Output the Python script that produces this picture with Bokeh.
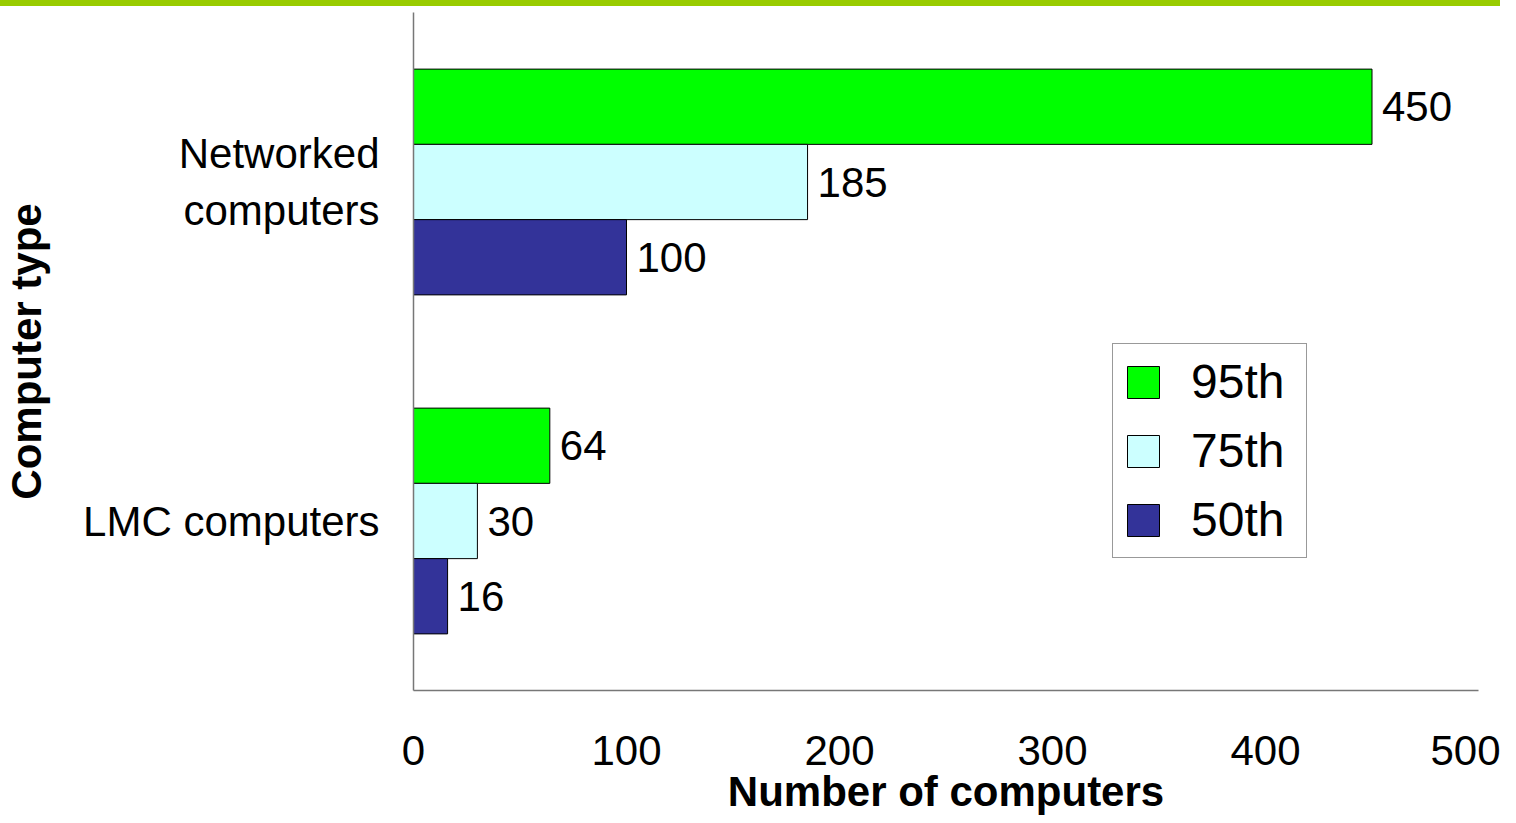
from bokeh.plotting import figure
from bokeh.models import ColumnDataSource, Range1d, FactorRange, FixedTicker, Div
from bokeh.layouts import column
from bokeh.transform import dodge
from bokeh.embed import file_html
from bokeh.resources import INLINE
from bokeh.core.properties import value

categories = ["LMC computers", "Networked\ncomputers"]
p95 = [64, 450]
p75 = [30, 185]
p50 = [16, 100]
series_labels = ["95th", "75th", "50th"]
series_colors = ["#00FF00", "#CCFFFF", "#333399"]
x_ticks = [0, 100, 200, 300, 400, 500]

FONT = "Liberation Sans"

src = ColumnDataSource(dict(
    cat=categories,
    p95=p95, p75=p75, p50=p50,
    l95=[str(v) for v in p95],
    l75=[str(v) for v in p75],
    l50=[str(v) for v in p50],
))

p = figure(width=1500, height=815,
           x_range=Range1d(0, 500),
           y_range=FactorRange(*categories, range_padding=0),
           output_backend="svg", toolbar_location=None,
           min_border_left=413, min_border_right=22,
           min_border_top=6, min_border_bottom=131)

bh = 0.222
offsets = [bh, 0.0, -bh]
fields = ["p95", "p75", "p50"]
lfields = ["l95", "l75", "l50"]
for f, lf, off, col, lab in zip(fields, lfields, offsets, series_colors, series_labels):
    p.hbar(y=dodge("cat", off, range=p.y_range), right=f, left=0, height=bh,
           source=src, fill_color=col, line_color="black", line_width=1,
           legend_label=lab)
    p.text(x=f, y=dodge("cat", off, range=p.y_range), text=lf, source=src,
           x_offset=10, text_baseline="middle", text_align="left",
           text_font_size="42px", text_font=value(FONT), text_color="black")

p.xgrid.visible = False
p.ygrid.visible = False
p.outline_line_color = None
p.background_fill_color = "white"
p.border_fill_color = "white"

xa = p.xaxis[0]
xa.ticker = FixedTicker(ticks=x_ticks)
xa.major_tick_line_color = None
xa.minor_tick_line_color = None
xa.axis_line_color = "#777777"
xa.axis_line_width = 1.5
xa.major_label_text_font = FONT
xa.major_label_text_font_size = "42px"
xa.major_label_text_color = "black"
xa.major_label_standoff = 39
xa.axis_label = "Number of computers"
xa.axis_label_text_font = FONT
xa.axis_label_text_font_size = "42px"
xa.axis_label_text_font_style = "bold"
xa.axis_label_text_color = "black"
xa.axis_label_standoff = 0

ya = p.yaxis[0]
ya.major_tick_line_color = None
ya.minor_tick_line_color = None
ya.axis_line_color = "#777777"
ya.axis_line_width = 1.5
ya.major_label_text_font = FONT
ya.major_label_text_font_size = "42px"
ya.major_label_text_color = "black"
ya.major_label_standoff = 28
ya.axis_label = "Computer type"
ya.axis_label_text_font = FONT
ya.axis_label_text_font_size = "42px"
ya.axis_label_text_font_style = "bold"
ya.axis_label_text_color = "black"
ya.axis_label_standoff = 30

lg = p.legend[0]
lg.location = (699, 132)
lg.label_text_font = FONT
lg.label_text_font_size = "48px"
lg.label_text_color = "black"
lg.glyph_width = 40
lg.glyph_height = 40
lg.label_standoff = 28
lg.label_width = 105
lg.spacing = 14
lg.padding = 10
lg.margin = 0
lg.border_line_color = "#333333"
lg.border_line_width = 1
lg.background_fill_color = "white"
lg.background_fill_alpha = 1.0

band = Div(text="", width=1500, height=6, margin=(0, 0, 0, 0),
           styles={"background-color": "#99CC00"})

layout = column(band, p, spacing=0, margin=(0, 0, 0, 0))

open("out.html", "w").write(file_html(layout, INLINE))
